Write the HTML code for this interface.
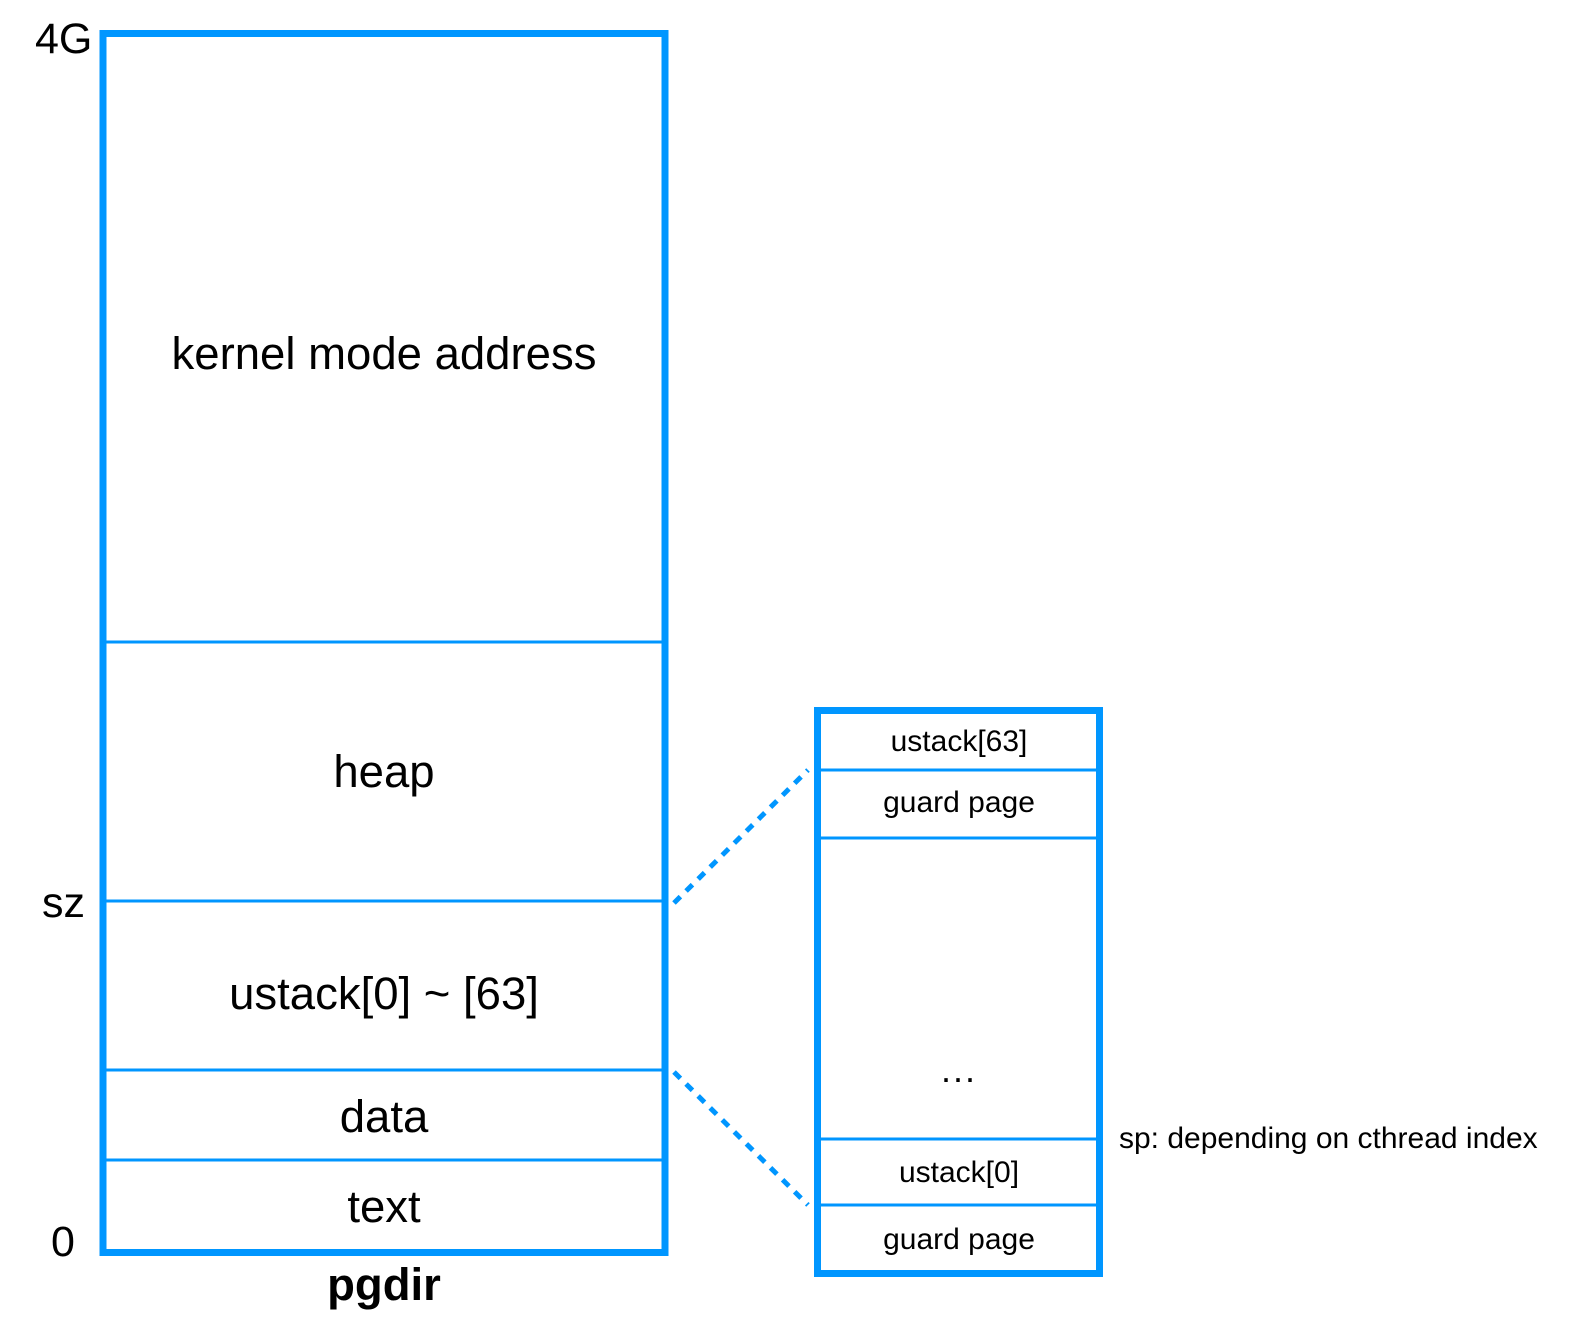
<!DOCTYPE html>
<html><head><style>
html,body{margin:0;padding:0;background:#fff;}
</style></head><body>
<svg width="1578" height="1330" xmlns="http://www.w3.org/2000/svg" font-family="Liberation Sans, sans-serif">
<rect width="1578" height="1330" fill="#fff"/>
<g stroke="#0096FF" fill="none">
<rect x="103" y="33.5" width="562" height="1219" stroke-width="7"/>
<line x1="103" y1="642" x2="665" y2="642" stroke-width="3"/>
<line x1="103" y1="901" x2="665" y2="901" stroke-width="3"/>
<line x1="103" y1="1070" x2="665" y2="1070" stroke-width="3"/>
<line x1="103" y1="1160" x2="665" y2="1160" stroke-width="3"/>
<rect x="817.5" y="710.5" width="282" height="563" stroke-width="7"/>
<line x1="817" y1="770" x2="1100" y2="770" stroke-width="3"/>
<line x1="817" y1="838" x2="1100" y2="838" stroke-width="3"/>
<line x1="817" y1="1139" x2="1100" y2="1139" stroke-width="3"/>
<line x1="817" y1="1205" x2="1100" y2="1205" stroke-width="3"/>
<line x1="674" y1="903" x2="808" y2="770" stroke-width="5" stroke-dasharray="9,8"/>
<line x1="674" y1="1072" x2="808" y2="1205" stroke-width="5" stroke-dasharray="9,8"/>
</g>
<g fill="#000" font-size="43">
<text x="35" y="53">4G</text>
<text x="42" y="917">sz</text>
<text x="51" y="1256">0</text>
</g>
<g fill="#000" font-size="45.5" text-anchor="middle">
<text x="384" y="369">kernel mode address</text>
<text x="384" y="787">heap</text>
<text x="384" y="1009">ustack[0] ~ [63]</text>
<text x="384" y="1132">data</text>
<text x="384" y="1222">text</text>
<text x="384" y="1300" font-weight="bold">pgdir</text>
</g>
<g fill="#000" font-size="30" text-anchor="middle">
<text x="959" y="751">ustack[63]</text>
<text x="959" y="812">guard page</text>
<text x="959" y="1082" font-size="36" letter-spacing="2">...</text>
<text x="959" y="1182">ustack[0]</text>
<text x="959" y="1249">guard page</text>
</g>
<text x="1119" y="1148" font-size="30" fill="#000">sp: depending on cthread index</text>
</svg>
</body></html>
